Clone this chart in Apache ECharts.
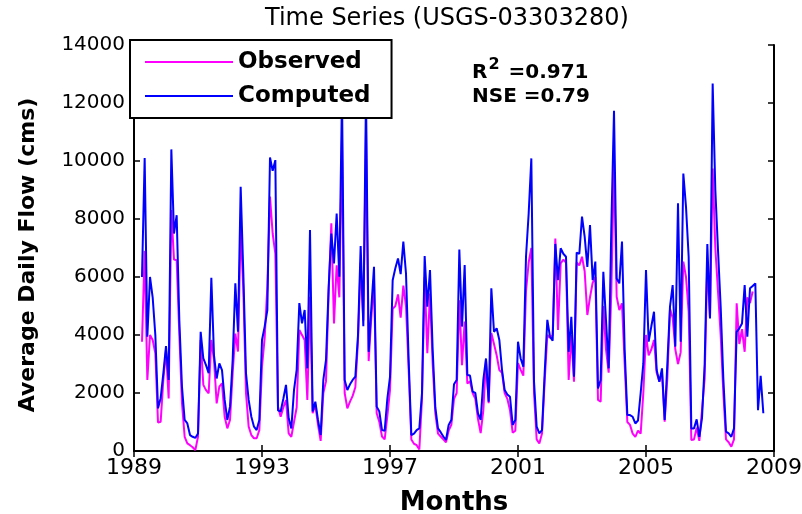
<!DOCTYPE html>
<html><head><meta charset="utf-8">
<script src="https://cdn.jsdelivr.net/npm/echarts@6/dist/echarts.min.js"></script>
<style>html,body{margin:0;padding:0;background:#fff}#c{width:802px;height:514px}</style>
</head><body><div id="c"></div>
<script>
// Monthly series starting April 1989
const startYear = 1989;
const startMonth = 3;
const observed = [
3770,6900,2450,4000,3830,3370,980,1010,2450,3480,1815,8310,6600,6580,4000,1640,490,260,200,130,
30,490,3830,2280,2100,1990,3830,3140,1640,2220,2330,1180,780,1070,2680,4050,3430,7730,5550,1990,
840,550,440,440,720,2910,3900,5660,8770,7500,6810,1530,1180,1500,1760,610,490,1000,1500,4170,
4000,3830,1760,5320,1300,1600,900,350,2000,2400,5500,7850,4400,6400,5300,10800,2000,1470,1700,1900,
2200,3800,6500,4500,11000,3100,4600,5900,1300,1000,500,400,1200,2100,4900,5000,5400,4600,5700,5000,
2800,400,250,200,50,1800,6000,3370,5430,3000,1300,600,500,400,300,700,900,1800,2000,5200,
2960,4460,2330,2400,2000,1800,1100,620,1400,3140,1650,4070,3690,3300,2790,2700,2000,1800,1400,630,
700,3030,2800,2600,5500,6500,7000,2000,400,260,600,2400,4000,3900,4000,7330,4170,6470,6600,6500,
2450,4000,2390,6500,6400,6700,6200,4690,5300,5800,6000,1760,1700,5000,3500,2700,5500,10000,5320,4860,
5090,3000,1000,900,600,490,700,600,2000,4000,3300,3500,3830,2700,2400,2700,1010,2500,4900,4600,
3500,3000,3400,6530,6000,4800,380,400,800,350,1410,2500,6500,4600,9740,7000,5500,4000,2000,400,
300,150,400,5090,3690,4200,3420,5300,5100,5500
];
const computed = [
6000,10100,3940,6000,5300,4000,1470,1820,2680,3620,2450,10400,7500,8130,4500,2200,1070,950,550,490,
450,600,4110,3190,2960,2680,5970,3300,2500,3020,2790,1760,1070,1530,3140,5780,4110,9110,6120,2680,
1760,1180,840,720,1070,3830,4290,4860,10120,9660,10030,1400,1360,1800,2280,1130,780,2100,2800,5100,
4400,4860,2850,7620,1360,1700,1070,550,2450,3140,5660,7500,6470,8190,6010,12300,2450,2100,2300,2450,
2560,4000,7070,4300,12300,3420,4950,6350,1530,1360,720,700,1800,2560,5890,6300,6640,6100,7220,6120,
3140,550,600,720,780,2000,6720,4980,6240,3500,1500,780,650,500,380,900,1070,2300,2450,6950,
4290,6410,2620,2600,2050,2000,1300,1070,2450,3190,1700,5610,4110,4230,3830,2800,2100,1950,1870,900,
1070,3770,3190,2910,6700,8190,10090,2400,840,610,720,2680,4520,3940,3800,7140,5890,6990,6800,6700,
3420,4630,2560,6840,6800,8080,7390,6350,7790,5890,6530,2160,2450,6180,4500,2850,7730,11730,5950,5780,
7220,3500,1240,1240,1180,950,1050,2000,3020,6240,3770,4300,4800,2790,2390,2850,1070,3000,4980,5720,
3600,8540,3770,9570,8420,6700,780,780,1090,490,1130,3000,7140,4570,12670,9000,6930,4980,2500,670,
610,490,780,4110,4230,4400,5720,3940,5610,5690,5780,1410,2590,1300
];
const xTicks = [1989, 1993, 1997, 2001, 2005, 2009];
const yTicks = [0, 2000, 4000, 6000, 8000, 10000, 12000, 14000];
const seriesNames = ['Observed', 'Computed'];

const toPairs = arr => arr.map((v, i) => [startYear + (startMonth + i) / 12, v]);

const axisLineStyle = {color: '#000', width: 2};
const tickStyle = {color: '#000', width: 1.5};
const chart = echarts.init(document.getElementById('c'));
chart.setOption({
  animation: false,
  backgroundColor: '#fff',
  grid: {left: 134, right: 28, top: 45, bottom: 63, show: false, containLabel: false, outerBoundsMode: 'none'},
  graphic: [
    {type: 'text', x: 447, y: 19, style: {text: 'Time Series (USGS-03303280)', fontFamily: 'DejaVu Sans', fontSize: 24, fill: '#000', align: 'center', verticalAlign: 'middle'}},
    {type: 'text', x: 472, y: 70, z: 10, style: {text: '{a|R}{b|2}{a| =0.971}', verticalAlign: 'middle', fill: '#000',
      rich: {a: {fontFamily: 'DejaVu Sans', fontWeight: 'bold', fontSize: 20, lineHeight: 26, verticalAlign: 'bottom'},
             b: {fontFamily: 'DejaVu Sans', fontWeight: 'bold', fontSize: 16, lineHeight: 26, verticalAlign: 'top', padding: [0, 2, 0, 1]}}}},
    {type: 'text', x: 472, y: 97, z: 10, style: {text: 'NSE =0.79', fontFamily: 'DejaVu Sans', fontWeight: 'bold', fontSize: 20, fill: '#000', verticalAlign: 'middle'}}
  ],
  legend: {
    data: seriesNames, orient: 'vertical', left: 130, top: 40,
    backgroundColor: '#fff', borderColor: '#000', borderWidth: 2, borderRadius: 0,
    padding: [10, 21, 10, 15], itemWidth: 88, itemHeight: 2, itemGap: 10, icon: 'rect',
    textStyle: {fontFamily: 'DejaVu Sans', fontWeight: 'bold', fontSize: 23, lineHeight: 24, color: '#000'}
  },
  xAxis: [
    {type: 'value', min: xTicks[0], max: xTicks[xTicks.length - 1], interval: 4, position: 'bottom',
     name: 'Months', nameLocation: 'middle', nameGap: 39,
     nameTextStyle: {fontFamily: 'DejaVu Sans', fontWeight: 'bold', fontSize: 26, color: '#000'},
     axisLine: {show: true, lineStyle: axisLineStyle},
     axisTick: {show: true, inside: true, length: 6, lineStyle: tickStyle},
     axisLabel: {color: '#000', fontFamily: 'DejaVu Sans', fontSize: 22, margin: 6, formatter: v => String(v)},
     splitLine: {show: false}},
    {type: 'value', min: xTicks[0], max: xTicks[xTicks.length - 1], interval: 4, position: 'top',
     axisLine: {show: true, lineStyle: axisLineStyle},
     axisTick: {show: true, inside: true, length: 6, lineStyle: tickStyle},
     axisLabel: {show: false}, splitLine: {show: false}}
  ],
  yAxis: [
    {type: 'value', min: yTicks[0], max: yTicks[yTicks.length - 1], interval: 2000, position: 'left',
     name: 'Average Daily Flow (cms)', nameLocation: 'middle', nameGap: 95, nameRotate: 90,
     nameTextStyle: {fontFamily: 'DejaVu Sans', fontWeight: 'bold', fontSize: 22, color: '#000', padding: [0, 14, 0, 0]},
     axisLine: {show: true, lineStyle: axisLineStyle},
     axisTick: {show: true, inside: true, length: 6, lineStyle: tickStyle},
     axisLabel: {color: '#000', fontFamily: 'DejaVu Sans', fontSize: 20, margin: 9, formatter: v => String(v)},
     splitLine: {show: false}},
    {type: 'value', min: yTicks[0], max: yTicks[yTicks.length - 1], interval: 2000, position: 'right',
     axisLine: {show: true, lineStyle: axisLineStyle},
     axisTick: {show: true, inside: true, length: 6, lineStyle: tickStyle},
     axisLabel: {show: false}, splitLine: {show: false}}
  ],
  series: [
    {name: seriesNames[0], type: 'line', data: toPairs(observed), symbol: 'none', lineStyle: {color: '#ff00ff', width: 2}, itemStyle: {color: '#ff00ff'}, z: 2},
    {name: seriesNames[1], type: 'line', data: toPairs(computed), symbol: 'none', lineStyle: {color: '#0000ff', width: 2}, itemStyle: {color: '#0000ff'}, z: 3}
  ]
});
</script>
</body></html>
